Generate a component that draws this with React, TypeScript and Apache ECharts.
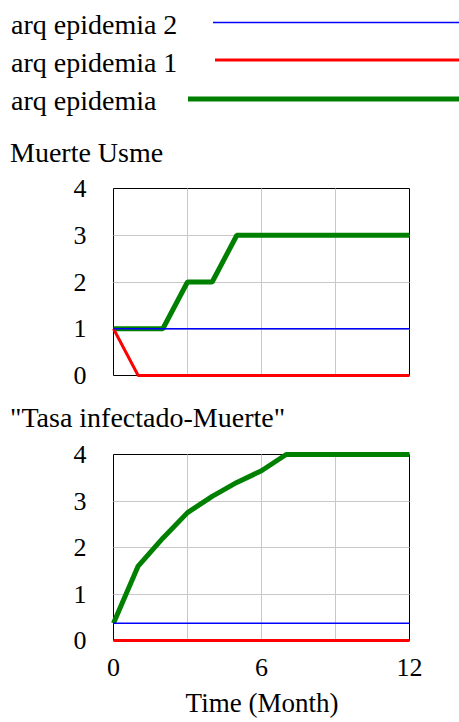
import React, { useEffect, useRef } from "react";
import * as echarts from "echarts";

const months = [0, 1, 2, 3, 4, 5, 6, 7, 8, 9, 10, 11, 12];
const seriesNames = ["arq epidemia 2", "arq epidemia 1", "arq epidemia"];
const seriesColors = ["#0000ff", "#ff0000", "#008000"];
const seriesWidths = [1.6, 3, 5];

// Chart 1: Muerte Usme
const muerteEpi2 = [1, 1, 1, 1, 1, 1, 1, 1, 1, 1, 1, 1, 1];
const muerteEpi1 = [1, 0, 0, 0, 0, 0, 0, 0, 0, 0, 0, 0, 0];
const muerteEpi = [1, 1, 1, 2, 2, 3, 3, 3, 3, 3, 3, 3, 3];

// Chart 2: "Tasa infectado-Muerte"
const tasaEpi2 = [0.37, 0.37, 0.37, 0.37, 0.37, 0.37, 0.37, 0.37, 0.37, 0.37, 0.37, 0.37, 0.37];
const tasaEpi1 = [0, 0, 0, 0, 0, 0, 0, 0, 0, 0, 0, 0, 0];
const tasaEpi = [0.37, 1.6, 2.2, 2.75, 3.1, 3.4, 3.65, 4, 4, 4, 4, 4, 4];

const xTickLabels = [0, 6, 12];
const yTickLabels = [0, 1, 2, 3, 4];
const chartTitles = ["Muerte Usme", "\"Tasa infectado-Muerte\""];
const xAxisTitle = "Time (Month)";

const FONT = "Liberation Serif";
const FS_TEXT = 28;
const FS_AXIS = 26;

export default function App() {
  const ref = useRef<HTMLDivElement>(null);
  useEffect(() => {
    if (!ref.current) return;
    document.body.style.margin = "0";
    const chart = echarts.init(ref.current, undefined, { renderer: "svg" });
    const grids = [
      { left: 113.5, top: 188.5, width: 296, height: 187 },
      { left: 113.5, top: 454.5, width: 296, height: 186 },
    ];
    const mkX = (gi: number, showLabels: boolean) => ({
      type: "value",
      gridIndex: gi,
      min: 0,
      max: 12,
      interval: 3,
      axisLine: { show: false },
      axisTick: { show: false },
      splitLine: { show: true, showMinLine: false, showMaxLine: false, lineStyle: { color: "#c8c8c8", width: 1 } },
      axisLabel: {
        show: showLabels,
        margin: 14,
        fontFamily: FONT,
        fontSize: FS_AXIS,
        color: "#000",
        showMinLabel: true,
        showMaxLabel: true,
        formatter: (v: number) => (xTickLabels.includes(v) ? String(v) : ""),
      },
    });
    const mkY = (gi: number) => ({
      type: "value",
      gridIndex: gi,
      min: 0,
      max: 4,
      interval: 1,
      axisLine: { show: false },
      axisTick: { show: false },
      splitLine: { show: true, showMinLine: false, showMaxLine: false, lineStyle: { color: "#c8c8c8", width: 1 } },
      axisLabel: {
        margin: 27,
        fontFamily: FONT,
        fontSize: FS_AXIS,
        color: "#000",
        showMinLabel: true,
        showMaxLabel: true,
        formatter: (v: number) => (yTickLabels.includes(v) ? String(v) : ""),
      },
    });
    const datasets = [
      [muerteEpi2, muerteEpi1, muerteEpi],
      [tasaEpi2, tasaEpi1, tasaEpi],
    ];
    const zOrder = [4, 3, 2];
    const series: any[] = [];
    datasets.forEach((set, gi) => {
      set.forEach((vals, si) => {
        series.push({
          type: "line",
          name: seriesNames[si],
          xAxisIndex: gi,
          yAxisIndex: gi,
          data: months.map((m, i) => [m, vals[i]]),
          showSymbol: false,
          clip: false,
          z: zOrder[si],
          lineStyle: { color: seriesColors[si], width: seriesWidths[si], cap: "butt" },
          itemStyle: { color: seriesColors[si] },
        });
      });
    });
    const txt = (text: string, x: number, y: number, size: number, align = "left") => ({
      type: "text",
      x,
      y,
      style: { text, fontFamily: FONT, fontSize: size, fill: "#000", align, verticalAlign: "middle" },
    });
    const legendRowsY = [22.5, 60, 99];
    const legendTextY = [24.5, 62.5, 100.5];
    const legendLineStart = [213, 215, 188];
    const graphic: any[] = [];
    seriesNames.forEach((n, i) => {
      graphic.push(txt(n, 11, legendTextY[i], FS_TEXT));
      graphic.push({
        type: "line",
        shape: { x1: legendLineStart[i], y1: legendRowsY[i], x2: 459, y2: legendRowsY[i] },
        style: { stroke: seriesColors[i], lineWidth: seriesWidths[i] },
      });
    });
    graphic.push(txt(chartTitles[0], 10, 152.5, FS_TEXT));
    graphic.push(txt(chartTitles[1], 10, 417.5, FS_TEXT));
    graphic.push(txt(xAxisTitle, 262, 703, 27, "center"));
    chart.setOption({
      animation: false,
      backgroundColor: "#fff",
      textStyle: { fontFamily: FONT },
      grid: grids.map((g) => ({ ...g, show: true, borderColor: "#000", borderWidth: 1, backgroundColor: "transparent" })),
      xAxis: [mkX(0, false), mkX(1, true)],
      yAxis: [mkY(0), mkY(1)],
      series,
      graphic,
    });
    return () => chart.dispose();
  }, []);
  return (
    <div style={{ position: "relative", width: 459, height: 722, fontFamily: FONT }}>
      <div ref={ref} style={{ width: 459, height: 722 }} />
    </div>
  );
}
